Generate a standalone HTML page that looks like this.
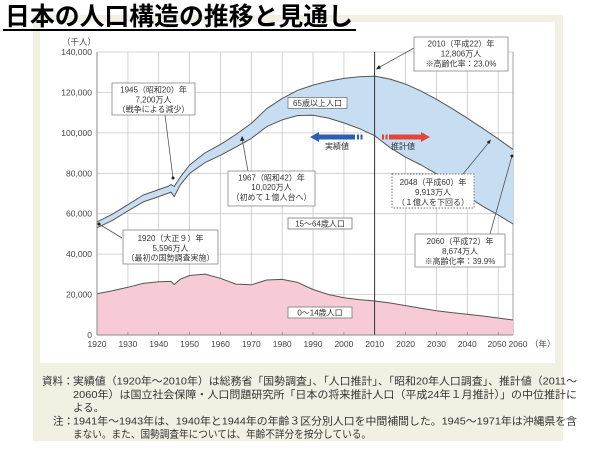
<!DOCTYPE html>
<html><head><meta charset="utf-8">
<style>
html,body{margin:0;padding:0;background:#fff;}
svg{display:block;}
text{font-family:"Liberation Sans","Noto Sans CJK JP",sans-serif;}
</style></head>
<body>
<svg width="600" height="450" viewBox="0 0 600 450" xmlns="http://www.w3.org/2000/svg">
<rect x="0" y="0" width="600" height="450" fill="#ffffff"/>
<rect x="33" y="15" width="530" height="426" fill="#f2f0e3"/>
<rect x="40" y="22" width="515" height="341" fill="#ffffff"/>

<text x="5" y="25" font-size="25" font-weight="700" fill="#000" textLength="348" lengthAdjust="spacingAndGlyphs" style="font-family:'Noto Sans CJK JP','Liberation Sans',sans-serif">日本の人口構造の推移と見通し</text>
<line x1="3" y1="30" x2="356" y2="30" stroke="#000" stroke-width="2"/>

<g stroke="#c8c8c8" stroke-width="0.8">
<line x1="97" y1="52" x2="513" y2="52"/>
<line x1="97" y1="92.4" x2="513" y2="92.4"/>
<line x1="97" y1="132.9" x2="513" y2="132.9"/>
<line x1="97" y1="173.3" x2="513" y2="173.3"/>
<line x1="97" y1="213.7" x2="513" y2="213.7"/>
<line x1="97" y1="254.1" x2="513" y2="254.1"/>
<line x1="97" y1="294.6" x2="513" y2="294.6"/>
<line x1="127.9" y1="52" x2="127.9" y2="335"/>
<line x1="158.7" y1="52" x2="158.7" y2="335"/>
<line x1="189.6" y1="52" x2="189.6" y2="335"/>
<line x1="220.4" y1="52" x2="220.4" y2="335"/>
<line x1="251.3" y1="52" x2="251.3" y2="335"/>
<line x1="282.2" y1="52" x2="282.2" y2="335"/>
<line x1="313" y1="52" x2="313" y2="335"/>
<line x1="343.9" y1="52" x2="343.9" y2="335"/>
<line x1="405.6" y1="52" x2="405.6" y2="335"/>
<line x1="436.5" y1="52" x2="436.5" y2="335"/>
<line x1="467.3" y1="52" x2="467.3" y2="335"/>
<line x1="498.2" y1="52" x2="498.2" y2="335"/>
</g>
<line x1="513" y1="52" x2="513" y2="335" stroke="#999" stroke-width="0.9"/>

<polygon fill="#c6ddf2" points="97,221.9 112.4,214.2 127.9,204.7 143.3,195.0 158.7,189.6 168,186.4 171,184.5 174.2,186.5 180.3,177.1 189.6,165.0 205,152.9 220.4,144.4 235.9,134.5 251.3,123.4 266.7,108.7 282.2,98.4 297.6,90.3 313,85.1 328.5,81.2 343.9,78.4 359.3,76.7 374.7,76.1 390.2,79.1 405.6,84.1 421,91.1 436.5,99.3 451.9,108.4 467.3,118.2 482.8,128.4 498.2,138.8 513,149.5 513,224 498.2,214.9 482.8,206.3 467.3,196.3 451.9,184 436.5,173.8 421,165 405.6,157.2 390.2,147.7 374.7,135.7 359.3,128.6 343.9,122.9 328.5,118.1 313,115.2 297.6,115.5 282.2,119.9 266.7,126.6 251.3,138.4 235.9,147.1 220.4,155.3 205,162.6 189.6,173.4 180.3,184.8 174.2,196.6 171,192.1 158.7,196.6 143.3,201.9 127.9,210.9 112.4,220.4 97,227.8"/>
<polygon fill="#f6cbd5" points="97,293.7 112.4,290.7 127.9,287.3 143.3,283.4 158.7,281.7 171,281.4 174.2,284.5 180.3,279.2 189.6,275.5 205,274.1 220.4,278.3 235.9,284.1 251.3,284.8 266.7,280 282.2,279.4 297.6,282.4 313,289.5 328.5,294.5 343.9,297.7 359.3,299.6 374.7,301 390.2,303 405.6,305.6 421,308.2 436.5,310.7 451.9,312.6 467.3,314.3 482.8,316 498.2,318 513,320 513,335 97,335"/>

<g fill="none" stroke="#555" stroke-width="1" stroke-linejoin="round">
<polyline points="97,221.9 112.4,214.2 127.9,204.7 143.3,195.0 158.7,189.6 168,186.4 171,184.5 174.2,186.5 180.3,177.1 189.6,165.0 205,152.9 220.4,144.4 235.9,134.5 251.3,123.4 266.7,108.7 282.2,98.4 297.6,90.3 313,85.1 328.5,81.2 343.9,78.4 359.3,76.7 374.7,76.1 390.2,79.1 405.6,84.1 421,91.1 436.5,99.3 451.9,108.4 467.3,118.2 482.8,128.4 498.2,138.8 513,149.5"/>
<polyline points="97,227.8 112.4,220.4 127.9,210.9 143.3,201.9 158.7,196.6 171,192.1 174.2,196.6 180.3,184.8 189.6,173.4 205,162.6 220.4,155.3 235.9,147.1 251.3,138.4 266.7,126.6 282.2,119.9 297.6,115.5 313,115.2 328.5,118.1 343.9,122.9 359.3,128.6 374.7,135.7 390.2,147.7 405.6,157.2 421,165 436.5,173.8 451.9,184 467.3,196.3 482.8,206.3 498.2,214.9 513,224"/>
<polyline points="97,293.7 112.4,290.7 127.9,287.3 143.3,283.4 158.7,281.7 171,281.4 174.2,284.5 180.3,279.2 189.6,275.5 205,274.1 220.4,278.3 235.9,284.1 251.3,284.8 266.7,280 282.2,279.4 297.6,282.4 313,289.5 328.5,294.5 343.9,297.7 359.3,299.6 374.7,301 390.2,303 405.6,305.6 421,308.2 436.5,310.7 451.9,312.6 467.3,314.3 482.8,316 498.2,318 513,320"/>
</g>

<line x1="374.6" y1="52" x2="374.6" y2="335" stroke="#333" stroke-width="1"/>

<line x1="97" y1="52" x2="97" y2="335" stroke="#888" stroke-width="1"/>
<line x1="97" y1="335" x2="513" y2="335" stroke="#888" stroke-width="1"/>
<g stroke="#888" stroke-width="0.8">
<line x1="127.9" y1="332" x2="127.9" y2="335"/><line x1="158.7" y1="332" x2="158.7" y2="335"/>
<line x1="189.6" y1="332" x2="189.6" y2="335"/><line x1="220.4" y1="332" x2="220.4" y2="335"/>
<line x1="251.3" y1="332" x2="251.3" y2="335"/><line x1="282.2" y1="332" x2="282.2" y2="335"/>
<line x1="313" y1="332" x2="313" y2="335"/><line x1="343.9" y1="332" x2="343.9" y2="335"/>
<line x1="405.6" y1="332" x2="405.6" y2="335"/><line x1="436.5" y1="332" x2="436.5" y2="335"/>
<line x1="467.3" y1="332" x2="467.3" y2="335"/><line x1="498.2" y1="332" x2="498.2" y2="335"/>
</g>

<g font-size="8.5" fill="#444" text-anchor="end">
<text x="92" y="55">140,000</text>
<text x="92" y="95.4">120,000</text>
<text x="92" y="135.9">100,000</text>
<text x="92" y="176.3">80,000</text>
<text x="92" y="216.7">60,000</text>
<text x="92" y="257.1">40,000</text>
<text x="92" y="297.6">20,000</text>
<text x="92" y="338">0</text>
</g>
<text x="62" y="45" font-size="8.5" fill="#444">（千人）</text>

<g font-size="8.5" fill="#444" text-anchor="middle">
<text x="97" y="347">1920</text><text x="127.9" y="347">1930</text><text x="158.7" y="347">1940</text>
<text x="189.6" y="347">1950</text><text x="220.4" y="347">1960</text><text x="251.3" y="347">1970</text>
<text x="282.2" y="347">1980</text><text x="313" y="347">1990</text><text x="343.9" y="347">2000</text>
<text x="374.7" y="347">2010</text><text x="405.6" y="347">2020</text><text x="436.5" y="347">2030</text>
<text x="467.3" y="347">2040</text><text x="497" y="347">2050</text><text x="518" y="347">2060</text>
</g>
<text x="530" y="347" font-size="8.5" fill="#444">（年）</text>

<g font-size="8" fill="#333" text-anchor="middle">
<rect x="288" y="97.5" width="59" height="11" fill="#fff" stroke="#777" stroke-width="0.8"/>
<text x="317.5" y="106">65歳以上人口</text>
<rect x="288" y="218" width="64" height="11" fill="#fff" stroke="#777" stroke-width="0.8"/>
<text x="320" y="226.5">15〜64歳人口</text>
<rect x="288" y="307" width="64" height="11" fill="#fff" stroke="#777" stroke-width="0.8"/>
<text x="320" y="315.5">0〜14歳人口</text>
</g>

<polygon fill="#2e5fae" points="310,137 319,132 319,134.5 355,134.5 355,139.5 319,139.5 319,142"/>
<rect x="357" y="134.5" width="2" height="5" fill="#2e5fae"/>
<rect x="360.5" y="134.5" width="2" height="5" fill="#2e5fae"/>
<polygon fill="#e5443b" points="430,137 421,132 421,134.5 389,134.5 389,139.5 421,139.5 421,142"/>
<rect x="382" y="134.5" width="2" height="5" fill="#e5443b"/>
<rect x="385.5" y="134.5" width="2" height="5" fill="#e5443b"/>
<g font-size="8" fill="#333" text-anchor="middle">
<text x="337" y="149">実績値</text>
<text x="403" y="149">推計値</text>
</g>

<g stroke="#555" stroke-width="0.8" fill="none">
<line x1="165" y1="115" x2="173" y2="178"/>
<line x1="248" y1="171" x2="242" y2="138"/>
<line x1="122" y1="238" x2="99" y2="224"/>
<line x1="414" y1="48" x2="377" y2="68.5"/>
<line x1="463" y1="174" x2="490" y2="141"/>
<line x1="490" y1="234" x2="512" y2="156"/>
</g>
<g fill="#222">
<circle cx="173" cy="178" r="1.5"/>
<circle cx="99" cy="224" r="1.5"/>
<circle cx="512" cy="156" r="1.5"/>
<polygon points="242,136 240,141 244.5,140.5"/>
<polygon points="376,69.5 381,68.5 379,65"/>
<polygon points="491,139.5 486.5,142 489.5,144"/>
</g>

<g font-size="8" fill="#333" text-anchor="middle">
<rect x="112" y="83" width="83" height="32" fill="#fff" stroke="#888" stroke-width="0.8"/>
<text x="153.5" y="92.5">1945（昭和20）年</text>
<text x="153.5" y="102.5">7,200万人</text>
<text x="153.5" y="112">（戦争による減少）</text>

<rect x="228" y="171" width="87" height="35" fill="#fff" stroke="#888" stroke-width="0.8"/>
<text x="271.5" y="180.5">1967（昭和42）年</text>
<text x="271.5" y="190">10,020万人</text>
<text x="271.5" y="200">（初めて１億人台へ）</text>

<rect x="123" y="230" width="95" height="34" fill="#fff" stroke="#888" stroke-width="0.8"/>
<text x="170.5" y="241">1920（大正９）年</text>
<text x="170.5" y="251">5,596万人</text>
<text x="170.5" y="260.5">（最初の国勢調査実施）</text>

<rect x="414" y="37" width="94" height="34" fill="#fff" stroke="#888" stroke-width="0.8"/>
<text x="461" y="46.5">2010（平成22）年</text>
<text x="461" y="56.5">12,806万人</text>
<text x="461" y="66.5">※高齢化率：23.0%</text>

<rect x="392" y="174" width="82" height="34" fill="#fff" stroke="#777" stroke-width="0.9" stroke-dasharray="1.5,1.5"/>
<text x="433" y="185">2048（平成60）年</text>
<text x="433" y="195">9,913万人</text>
<text x="433" y="205">（１億人を下回る）</text>

<rect x="415" y="234" width="90" height="33" fill="#fff" stroke="#888" stroke-width="0.8"/>
<text x="460" y="244">2060（平成72）年</text>
<text x="460" y="254">8,674万人</text>
<text x="460" y="264">※高齢化率：39.9%</text>
</g>

<g font-size="10.5" fill="#333">
<text x="42" y="384.5">資料：</text>
<text x="73" y="384.5" textLength="504" lengthAdjust="spacingAndGlyphs">実績値（1920年～2010年）は総務省「国勢調査」、「人口推計」、「昭和20年人口調査」、推計値（2011～</text>
<text x="73" y="398" textLength="504" lengthAdjust="spacingAndGlyphs">2060年）は国立社会保障・人口問題研究所「日本の将来推計人口（平成24年１月推計）」の中位推計に</text>
<text x="73" y="411">よる。</text>
<text x="53" y="424.5">注：</text>
<text x="73" y="424.5" textLength="504" lengthAdjust="spacingAndGlyphs">1941年～1943年は、1940年と1944年の年齢３区分別人口を中間補間した。1945～1971年は沖縄県を含</text>
<text x="73" y="437.5" textLength="298" lengthAdjust="spacingAndGlyphs">まない。また、国勢調査年については、年齢不詳分を按分している。</text>
</g>
</svg>
</body></html>
